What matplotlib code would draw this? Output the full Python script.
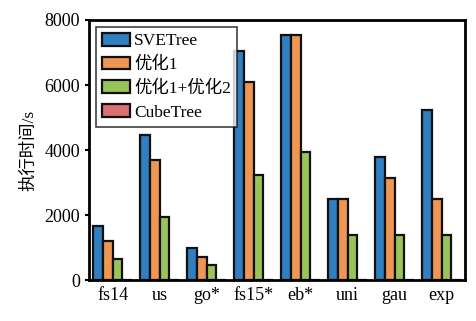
import numpy as np
import matplotlib.pyplot as plt

plt.rcParams['font.family'] = ['Liberation Serif', 'Noto Sans CJK SC']

# 各数据集上的执行时间 (s)
datasets = ["fs14", "us", "go*", "fs15*", "eb*", "uni", "gau", "exp"]
svetree = [1650, 4450, 1000, 7050, 7550, 2500, 3800, 5230]
opt1 = [1200, 3700, 700, 6100, 7550, 2500, 3150, 2500]
opt12 = [650, 1950, 450, 3230, 3950, 1380, 1380, 1380]
cubetree = [0, 0, 0, 0, 0, 0, 0, 0]

series = [svetree, opt1, opt12, cubetree]
names = ["SVETree", "优化1", "优化1+优化2", "CubeTree"]
colors = ["#2F7FC1", "#EE9653", "#98C55A", "#DB7171"]

fig = plt.figure(figsize=(4.77, 3.21), dpi=100)
ax = fig.add_axes([0.1866, 0.1277, 0.7884, 0.8100])

x = np.arange(1, len(datasets) + 1)
w = 0.21
for i, (vals, name, c) in enumerate(zip(series, names, colors)):
    ax.bar(x + (i - 1.5) * w, vals, width=w, color=c, edgecolor="#111111",
           linewidth=1.6, label=name)

ax.set_xlim(0.5, 8.5)
ax.set_ylim(0, 8000)
ax.set_yticks([0, 2000, 4000, 6000, 8000])
ax.set_xticks(x)
ax.set_xticklabels(datasets, fontsize=13)
ax.tick_params(axis="y", labelsize=13, direction="out", length=3, width=1.5)
ax.tick_params(axis="x", length=0, pad=5)
for s in ax.spines.values():
    s.set_linewidth(2)
ax.set_ylabel("执行时间/s", fontsize=12.5, labelpad=5)

leg = ax.legend(loc="upper left", fontsize=12.5, frameon=True, fancybox=False,
                edgecolor="#111111", handlelength=1.6, handleheight=0.75,
                handletextpad=0.25, borderpad=0.35, labelspacing=0.42,
                borderaxespad=0.4)
leg.get_frame().set_linewidth(1.2)

fig.savefig("out.png", dpi=100)
